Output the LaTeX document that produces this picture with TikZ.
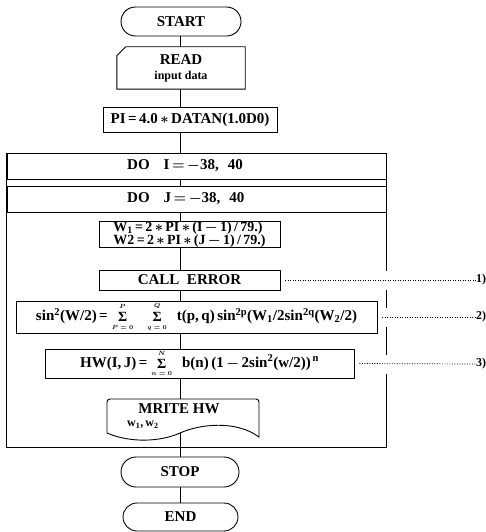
\documentclass[tikz,border=0pt]{standalone}
\usepackage{fontspec}
\setmainfont{Liberation Serif}
\usetikzlibrary{shapes.misc,calc}

% sum sign with small limits stacked above and below
\newcommand{\flowsum}[2]{$\vcenter{\hbox{\shortstack{\fontsize{6}{6}\selectfont$#2$\\[0.5pt]{\fontsize{14}{14}\selectfont Σ}\\[0.5pt]\fontsize{6}{6}\selectfont$#1$}}}$}

\begin{document}
\begin{tikzpicture}[x=1pt,y=-1pt,
  every node/.style={font=\fontsize{15}{16}\selectfont\bfseries\boldmath, inner sep=0pt},
  box/.style={draw, line width=0.9pt, rectangle},
  term/.style={draw, line width=0.9pt, rounded rectangle},
  link/.style={line width=0.9pt},
  note/.style={line width=0.7pt, dash pattern=on 0.8pt off 1.7pt},
  tag/.style={font=\fontsize{12}{12}\selectfont\bfseries, anchor=west},
  small/.style={font=\fontsize{12}{12}\selectfont\bfseries\boldmath}
]
\fill[white] (0,0) rectangle (486,532);
\useasboundingbox (0,0) rectangle (486,532);
\coordinate (axis) at (180,0);
\coordinate (loopbot) at (180,447);

% terminals and plain boxes
\node[term, minimum width=120pt, minimum height=29pt] (start) at (181,21.5) {START};
\node[minimum width=128pt, minimum height=42pt, align=center] (read) at (181,68)
  {READ\\[-1pt]{\fontsize{12}{12}\selectfont input data}};
\draw[link] ($(read.north west)+(0,9)$) -- ($(read.north west)+(9,0)$) -- (read.north east)
  -- (read.south east) -- (read.south west) -- cycle;
\node[box, minimum width=174pt, minimum height=25pt] (pi) at (190,119.5)
  {PI\,=\,4.0\,$*$\,DATAN(1.0D0)};

% loop bars
\node[box, minimum width=379pt, minimum height=26pt] (doi) at (196.5,166) {};
\node[anchor=west] (doitxt) at (127,166) {DO\hspace{14pt}I\,$=$\,$-$38,\hspace{9pt}40};
\node[box, minimum width=379pt, minimum height=26pt] (doj) at (196.5,199) {};
\node[anchor=west] (dojtxt) at (127,199) {DO\hspace{14pt}J\,$=$\,$-$38,\hspace{9pt}40};

% loop body
\node[box, minimum width=181pt, minimum height=25pt, align=left,
      font=\fontsize{14}{11.5}\selectfont\bfseries\boldmath] (w) at (189.5,234.5)
  {W\textsubscript{1}\,=\,2\,$*$\,PI\,$*$\,(I\,$-$\,1)\,/\,79.)\\
   W2\,=\,2\,$*$\,PI\,$*$\,(J\,$-$\,1)\,/\,79.)};
\node[box, minimum width=181pt, minimum height=20pt] (call) at (189.5,280) {CALL\ \ ERROR};
\node[box, minimum width=361pt, minimum height=32pt] (sin) at (196.5,317)
  {sin\textsuperscript{2}(W/2)\,=\hspace{4pt}\flowsum{P=0}{P}\hspace{14pt}\flowsum{q=0}{Q}\hspace{10pt}t(p,\,q)\,sin\textsuperscript{2p}(W\textsubscript{1}/2sin\textsuperscript{2q}(W\textsubscript{2}/2)};
\node[box, minimum width=309pt, minimum height=29pt] (hw) at (199.5,363.5)
  {HW(I,\,J)\,=\hspace{4pt}\flowsum{n=0}{N}\hspace{10pt}b(n)\,(1\,$-$\,2sin\textsuperscript{2}(w/2))\textsuperscript{\,n}};

% output document symbol
\node[minimum width=152pt, minimum height=38pt] (mrite) at (183,418) {};
\node (mritetxt) at (179,409) {MRITE\ HW};
\node[small, anchor=west] (mriteargs) at (127,425) {w\textsubscript{1},\,w\textsubscript{2}};
\coordinate (mriteout) at (180,433);
\draw[link] (107,433) -- (107,402) to[out=90,in=180] (110,399) -- (256,399)
  to[out=0,in=90] (259,402) -- (259,437)
  .. controls (236,420) and (200,424) .. (mriteout)
  .. controls (160,442) and (130,443) .. (107,433);

\node[term, minimum width=118pt, minimum height=30pt] (stop) at (180,472) {STOP};
\node[term, minimum width=115pt, minimum height=28pt] (end) at (180.5,517) {END};

% notes on the right
\node[tag] (t1) at (476,280) {1)};
\node[tag] (t2) at (476,317) {2)};
\node[tag] (t3) at (476,364) {3)};
\draw[note] ($(call.east)+(5,0)$) -- (t1.west);
\draw[note] ($(sin.east)+(5,0)$) -- (t2.west);
\draw[note] ($(hw.east)+(5,0)$) -- (t3.west);

% loop frame, broken where the note lines pass
\draw[link] (doi.north west) -- (doi.west |- loopbot) -- (doi.east |- loopbot)
  -- ($(doi.east |- t3)+(0,10)$);
\draw[link] ($(doi.east |- t3)+(0,-9)$) -- ($(doi.east |- t2)+(0,10)$);
\draw[link] ($(doi.east |- t2)+(0,-9)$) -- ($(doi.east |- t1)+(0,10)$);
\draw[link] ($(doi.east |- t1)+(0,-9)$) -- (doi.north east);

% main flow line
\draw[link] (start.south -| axis) -- (read.north -| axis);
\draw[link] (read.south -| axis) -- (pi.north -| axis);
\draw[link] (pi.south -| axis) -- (doi.north -| axis);
\draw[link] (doi.south -| axis) -- (doj.north -| axis);
\draw[link] (doj.south -| axis) -- (w.north -| axis);
\draw[link] (w.south -| axis) -- (call.north -| axis);
\draw[link] (call.south -| axis) -- (sin.north -| axis);
\draw[link] (sin.south -| axis) -- (hw.north -| axis);
\draw[link] (hw.south -| axis) -- (mrite.north -| axis);
\draw[link] (mriteout) -- (stop.north -| axis);
\draw[link] (stop.south -| axis) -- (end.north -| axis);
\end{tikzpicture}
\end{document}
